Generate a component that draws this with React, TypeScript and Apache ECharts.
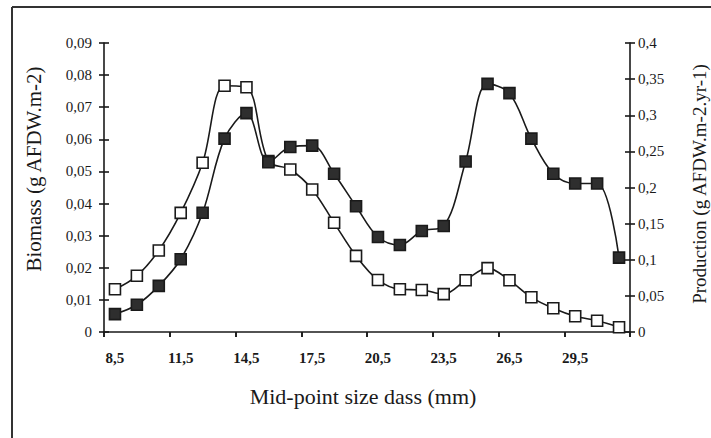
import React, { useEffect, useRef } from "react";
import * as echarts from "echarts";

const sizeClasses = [
  "8,5", "9,5", "10,5", "11,5", "12,5", "13,5", "14,5", "15,5",
  "16,5", "17,5", "18,5", "19,5", "20,5", "21,5", "22,5", "23,5",
  "24,5", "25,5", "26,5", "27,5", "28,5", "29,5", "30,5", "31,5",
];

const biomass = [
  0.0133, 0.0175, 0.0254, 0.0371, 0.0527, 0.0767, 0.0762, 0.0532,
  0.0506, 0.0444, 0.034, 0.0237, 0.0162, 0.0133, 0.0131, 0.0118,
  0.0161, 0.0199, 0.0161, 0.0108, 0.0074, 0.0049, 0.0035, 0.0015,
];

const production = [
  0.0248, 0.0377, 0.0639, 0.1007, 0.165, 0.2676, 0.303, 0.2349,
  0.256, 0.258, 0.219, 0.174, 0.1315, 0.1205, 0.1398, 0.1467,
  0.236, 0.3434, 0.3306, 0.2676, 0.219, 0.2055, 0.2055, 0.103,
];

const xTitle = "Mid-point size dass (mm)";
const leftTitle = "Biomass (g AFDW.m-2)";
const rightTitle = "Production (g AFDW.m-2.yr-1)";

const FONT = "Liberation Serif";
const INK = "#1a1a1a";

const fmt = (v: number) =>
  v === 0 ? "0" : String(+v.toFixed(3)).replace(".", ",");

export default function App() {
  const ref = useRef<HTMLDivElement>(null);
  useEffect(() => {
    if (!ref.current) return;
    const chart = echarts.init(ref.current, null, { renderer: "svg" });
    const yBase = (
      position: "left" | "right",
      max: number,
      interval: number,
      inside: boolean
    ) => ({
      type: "value",
      position,
      min: 0,
      max,
      interval,
      axisLine: { show: !inside, lineStyle: { color: INK, width: 1.6 } },
      axisTick: {
        show: true,
        inside,
        length: 5,
        lineStyle: { color: INK, width: 1.6 },
      },
      axisLabel: {
        show: !inside,
        formatter: fmt,
        fontFamily: FONT,
        fontSize: 15,
        color: INK,
        margin: position === "left" ? 12 : 8,
      },
      splitLine: { show: false },
    });
    const xBase = (inside: boolean) => ({
      type: "category",
      data: sizeClasses,
      boundaryGap: true,
      axisLine: { show: !inside, lineStyle: { color: INK, width: 1.6 } },
      axisTick: {
        show: true,
        inside,
        interval: 2,
        length: 5,
        lineStyle: { color: INK, width: 1.6 },
      },
      axisLabel: {
        show: !inside,
        interval: 2,
        fontFamily: FONT,
        fontSize: 15,
        fontWeight: "bold",
        color: INK,
        margin: 18,
      },
      splitLine: { show: false },
    });
    chart.setOption({
      animation: false,
      backgroundColor: "#ffffff",
      grid: {
        left: 104,
        right: 81,
        top: 43,
        bottom: 106,
        containLabel: false,
        outerBoundsMode: "none",
      },
      xAxis: [xBase(false), xBase(true)],
      yAxis: [
        yBase("left", 0.09, 0.01, false),
        yBase("right", 0.4, 0.05, false),
        yBase("left", 0.09, 0.01, true),
        yBase("right", 0.4, 0.05, true),
      ],
      series: [
        {
          name: "Biomass",
          type: "line",
          xAxisIndex: 0,
          yAxisIndex: 0,
          data: biomass,
          smooth: 0.35,
          symbol: "rect",
          symbolSize: 11,
          lineStyle: { color: INK, width: 1.6 },
          itemStyle: { color: "#ffffff", borderColor: INK, borderWidth: 1.6 },
        },
        {
          name: "Production",
          type: "line",
          xAxisIndex: 0,
          yAxisIndex: 1,
          data: production,
          smooth: 0.35,
          symbol: "rect",
          symbolSize: 11,
          lineStyle: { color: INK, width: 1.6 },
          itemStyle: { color: "#2e2e2e", borderColor: INK, borderWidth: 1.6 },
        },
      ],
      graphic: [
        {
          type: "line",
          shape: { x1: 12, y1: 7, x2: 711, y2: 7 },
          style: { stroke: "#333", lineWidth: 2 },
        },
        {
          type: "line",
          shape: { x1: 12, y1: 7, x2: 12, y2: 438 },
          style: { stroke: "#333", lineWidth: 2 },
        },
        {
          type: "text",
          x: 34,
          y: 169,
          rotation: Math.PI / 2,
          style: {
            text: leftTitle,
            fontFamily: FONT,
            fontSize: 21,
            fill: INK,
            align: "center",
            verticalAlign: "middle",
          },
        },
        {
          type: "text",
          x: 699,
          y: 184,
          rotation: Math.PI / 2,
          style: {
            text: rightTitle,
            fontFamily: FONT,
            fontSize: 19,
            fill: INK,
            align: "center",
            verticalAlign: "middle",
          },
        },
        {
          type: "text",
          x: 363,
          y: 396,
          style: {
            text: xTitle,
            fontFamily: FONT,
            fontSize: 22,
            fill: INK,
            align: "center",
            verticalAlign: "middle",
          },
        },
      ],
    });
    return () => chart.dispose();
  }, []);
  return (
    <div
      ref={ref}
      style={{ position: "absolute", left: 0, top: 0, width: 711, height: 438 }}
    />
  );
}
